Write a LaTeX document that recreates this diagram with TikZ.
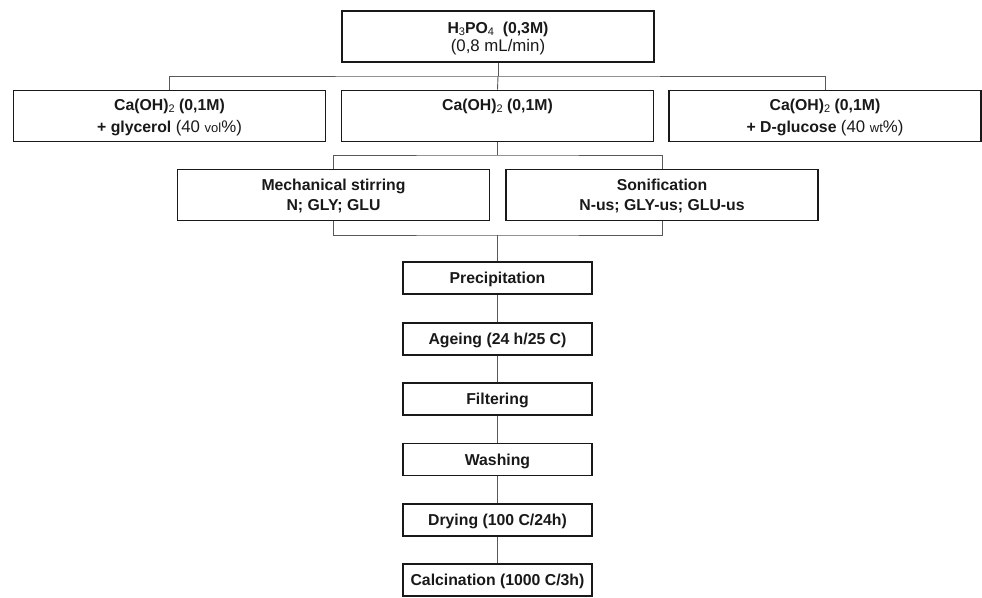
\documentclass[tikz,border=0pt]{standalone}
\usepackage{fontspec}
\setmainfont{Liberation Sans}
\newcommand{\subx}[1]{\raisebox{-0.25ex}{\fontseries{m}\fontsize{11}{11}\selectfont #1}}
\newcommand{\smallx}[1]{{\fontsize{13}{13}\selectfont #1}}
\newcommand{\tp}{\rule{0pt}{15.3pt}}
\newcommand{\bt}{\rule[-4pt]{0pt}{4pt}}
\newcommand{\rg}{\mdseries\fontsize{16.8}{18}\selectfont}
\begin{document}
\begin{tikzpicture}[x=1pt,y=-1pt,
  box/.style={draw=black!90,line width=1.9pt,rectangle,align=center,inner sep=0pt,
    text=black!90,font=\fontsize{15.8}{20}\selectfont\bfseries},
  wide/.style={box,minimum width=312pt,minimum height=51pt},
  narrow/.style={box,minimum width=189pt,minimum height=32pt},
  link/.style={draw=black!65,line width=0.9pt}]
\useasboundingbox (0,0) rectangle (982,597);
\node[wide,font=\fontsize{15.8}{18}\selectfont\bfseries] (top) at (498,36.5) {\tp H\subx{3}PO\subx{4} \ (0,3M)\\{\rg (0,8 mL/min)}\bt};
\node[wide,font=\fontsize{15.8}{21.5}\selectfont\bfseries] (left) at (169.5,116) {\tp Ca(OH)\subx{2} (0,1M)\\+ glycerol {\rg (40 \smallx{vol}\%)}\bt};
\node[wide,font=\fontsize{15.8}{21.5}\selectfont\bfseries] (mid) at (497.5,116) {\tp Ca(OH)\subx{2} (0,1M)\\\mbox{}\bt};
\node[wide,font=\fontsize{15.8}{21.5}\selectfont\bfseries] (right) at (825,116) {\tp Ca(OH)\subx{2} (0,1M)\\+ D-glucose {\rg (40 \smallx{wt}\%)}\bt};
\node[wide] (mech) at (333.5,195) {\tp Mechanical stirring\\N; GLY; GLU\bt};
\node[wide] (soni) at (662,195) {\tp Sonification\\N-us; GLY-us; GLU-us\bt};
\node[narrow] (prec) at (497.5,278) {\tp Precipitation\bt};
\node[narrow] (age) at (497.5,339) {\tp Ageing (24 h/25 C)\bt};
\node[narrow] (filt) at (497.5,399) {\tp Filtering\bt};
\node[narrow] (wash) at (497.5,459.5) {\tp Washing\bt};
\node[narrow] (dry) at (497.5,520) {\tp Drying (100 C/24h)\bt};
\node[narrow] (calc) at (497.5,580) {\tp Calcination (1000 C/3h)\bt};
\coordinate (b1) at (498,76);
\coordinate (b2) at (497.5,155);
\coordinate (b3) at (497.5,235);
\draw[link] (top.south) -- (b1);
\draw[link] (left.north) |- (b1) -| (right.north);
\draw[link] (b1) -- (mid.north);
\draw[link] (mid.south) -- (b2);
\draw[link] (mech.north) |- (b2) -| (soni.north);
\draw[link] (mech.south) |- (b3) -| (soni.south);
\draw[link] (b3) -- (prec.north);
\draw[link] (prec) -- (age);
\draw[link] (age) -- (filt);
\draw[link] (filt) -- (wash);
\draw[link] (wash) -- (dry);
\draw[link] (dry) -- (calc);
\end{tikzpicture}
\end{document}
